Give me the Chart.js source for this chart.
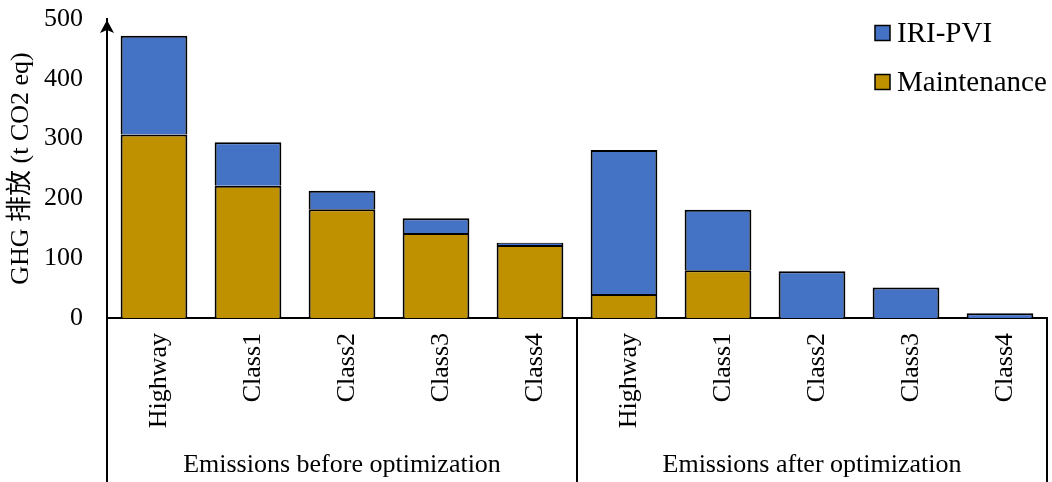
<!DOCTYPE html>
<html>
<head>
<meta charset="utf-8">
<script src="https://cdn.jsdelivr.net/npm/chart.js@4.4.1/dist/chart.umd.min.js"></script>
<style>
  html, body { margin: 0; padding: 0; background: #ffffff; }
  #wrap { width: 1052px; height: 482px; position: relative; }
</style>
</head>
<body>
<div id="wrap"><canvas id="chart"></canvas></div>
<script>
// Road classes, repeated once per scenario
const categories = ['Highway', 'Class1', 'Class2', 'Class3', 'Class4',
                    'Highway', 'Class1', 'Class2', 'Class3', 'Class4'];
// Scenario groups and how many categories each spans
const groupLabels = ['Emissions before optimization', 'Emissions after optimization'];
const groupSizes = [5, 5];
// GHG emissions (t CO2 eq)
const maintenance = [307, 221, 182, 142, 122, 40, 80, 0, 0, 0];
const iriPvi      = [165, 73, 31, 25, 4, 241, 101, 78, 51, 8];
// Value axis ticks
const yTicks = [0, 100, 200, 300, 400, 500];

const SERIF = "'Liberation Serif', 'Times New Roman', 'Noto Sans CJK SC', serif";
const BLUE = '#4472C4';
const GOLD = '#BF9000';

// Arrow head on top of the value axis
const axisArrow = {
  id: 'axisArrow',
  afterDraw(chart) {
    const { ctx, chartArea } = chart;
    const x = chartArea.left;
    const tip = chartArea.top + 1;
    ctx.save();
    ctx.fillStyle = '#000';
    ctx.beginPath();
    ctx.moveTo(x, tip);
    ctx.lineTo(x + 7, tip + 13);
    ctx.lineTo(x, tip + 10);
    ctx.lineTo(x - 7, tip + 13);
    ctx.closePath();
    ctx.fill();
    ctx.restore();
  }
};

// Group separators and group captions under the category labels
const groupAxis = {
  id: 'groupAxis',
  afterDraw(chart) {
    const { ctx, chartArea } = chart;
    const xs = chart.scales.x;
    const step = (xs.right - xs.left) / categories.length;
    const bottom = chart.height;
    ctx.save();
    ctx.strokeStyle = '#000';
    ctx.lineWidth = 2;
    let start = 0;
    const edges = [xs.left];
    groupSizes.forEach(n => { start += n; edges.push(xs.left + step * start); });
    edges.forEach(px => {
      ctx.beginPath();
      ctx.moveTo(Math.round(px), chartArea.bottom);
      ctx.lineTo(Math.round(px), bottom);
      ctx.stroke();
    });
    ctx.fillStyle = '#000';
    ctx.font = '26px ' + SERIF;
    ctx.textAlign = 'center';
    ctx.textBaseline = 'middle';
    groupLabels.forEach((g, i) => {
      ctx.fillText(g, (edges[i] + edges[i + 1]) / 2, 465);
    });
    ctx.restore();
  }
};

// Legend box in the upper right, listed top stack first
const boxLegend = {
  id: 'boxLegend',
  afterDraw(chart) {
    const { ctx } = chart;
    const items = chart.data.datasets.slice().reverse();
    ctx.save();
    ctx.font = '29px ' + SERIF;
    ctx.textBaseline = 'middle';
    ctx.textAlign = 'left';
    items.forEach((ds, i) => {
      const cy = 33 + i * 49;
      ctx.fillStyle = ds.backgroundColor;
      ctx.fillRect(875, cy - 7.5, 15, 15);
      ctx.strokeStyle = '#000';
      ctx.lineWidth = 1.5;
      ctx.strokeRect(875, cy - 7.5, 15, 15);
      ctx.fillStyle = '#000';
      ctx.fillText(ds.label, 897, cy + 1);
    });
    ctx.restore();
  }
};

new Chart(document.getElementById('chart'), {
  type: 'bar',
  data: {
    labels: categories,
    datasets: [
      {
        label: 'Maintenance',
        data: maintenance,
        backgroundColor: GOLD,
        borderColor: '#000',
        borderWidth: 2,
        barPercentage: 0.71,
        categoryPercentage: 1.0
      },
      {
        label: 'IRI-PVI',
        data: iriPvi,
        backgroundColor: BLUE,
        borderColor: '#000',
        borderWidth: 2,
        barPercentage: 0.71,
        categoryPercentage: 1.0
      }
    ]
  },
  options: {
    responsive: true,
    maintainAspectRatio: false,
    animation: false,
    layout: { padding: { top: 19, right: 5, left: 0, bottom: 0 } },
    plugins: {
      legend: { display: false },
      tooltip: { enabled: false }
    },
    scales: {
      x: {
        stacked: true,
        grid: { display: false, drawTicks: false },
        border: { display: true, color: '#000', width: 2 },
        ticks: {
          autoSkip: false,
          minRotation: 90,
          maxRotation: 90,
          padding: 15,
          labelOffset: 5,
          color: '#000',
          font: { family: SERIF, size: 26 }
        },
        afterFit(scale) {
          scale.height = 164;
          scale.paddingLeft = 0;
          scale.paddingRight = 0;
        }
      },
      y: {
        stacked: true,
        min: 0,
        max: 500,
        afterBuildTicks(scale) { scale.ticks = yTicks.map(v => ({ value: v })); },
        grid: { display: false, drawTicks: false },
        border: { display: true, color: '#000', width: 2 },
        ticks: {
          padding: 24,
          color: '#000',
          font: { family: SERIF, size: 26 }
        },
        title: {
          display: true,
          text: 'GHG 排放 (t CO2 eq)',
          color: '#000',
          font: { family: SERIF, size: 26 },
          padding: { top: 6, bottom: 0 }
        },
        afterFit(scale) {
          scale.width = 107;
          scale.paddingTop = 0;
          scale.paddingBottom = 0;
        }
      }
    }
  },
  plugins: [axisArrow, groupAxis, boxLegend]
});
</script>
</body>
</html>
